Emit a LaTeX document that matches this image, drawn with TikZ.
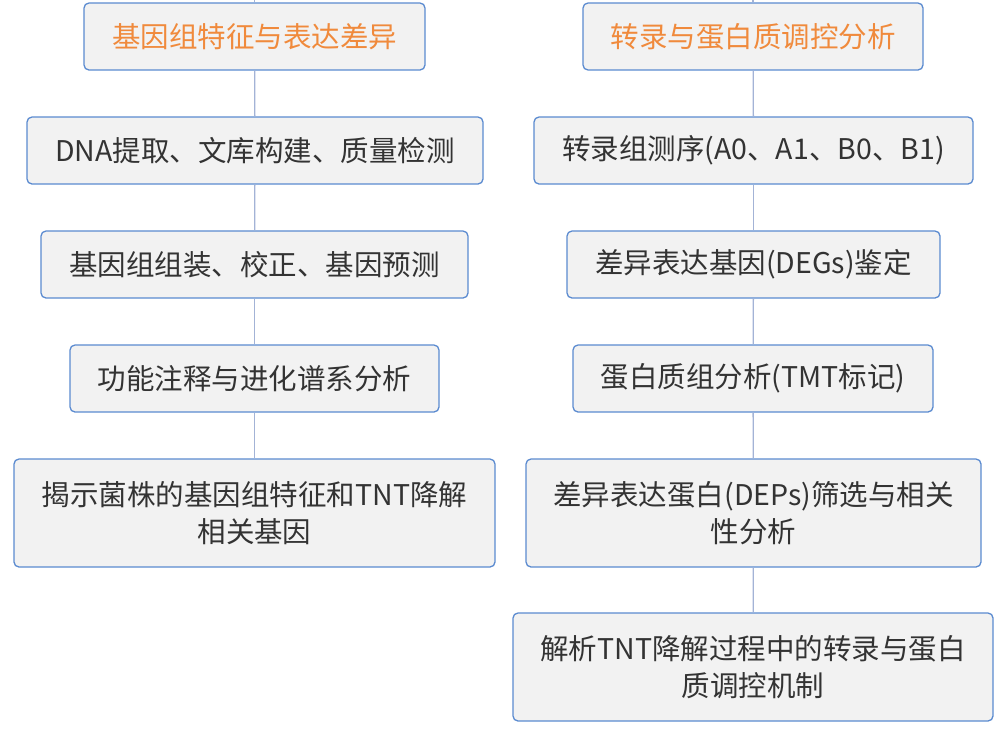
\documentclass[tikz,border=0pt]{standalone}
\usepackage{fontspec}
\setmainfont{Noto Sans CJK SC}
\definecolor{boxfill}{HTML}{F2F2F2}
\definecolor{boxdraw}{HTML}{5B8BD0}
\definecolor{linecol}{HTML}{A3B3D6}
\definecolor{txt}{HTML}{333333}
\definecolor{orangetxt}{HTML}{F08A3C}
\begin{document}
\begin{tikzpicture}[x=1pt,y=-1pt,
  box/.style={draw=boxdraw,line width=1.3pt,fill=boxfill,rounded corners=5pt,
    inner sep=0pt,align=center,text=txt,font=\fontsize{28.5}{37}\selectfont},
  conn/.style={draw=linecol,line width=1.3pt}]
\useasboundingbox (0,0) rectangle (1002,729);
% left column
\node[box,minimum width=341,minimum height=67,text=orangetxt] (L0) at (254.5,36.5) {基因组特征与表达差异};
\node[box,minimum width=456,minimum height=67] (L1) at (255,150.5) {DNA提取、文库构建、质量检测};
\node[box,minimum width=427,minimum height=67] (L2) at (254.5,264.5) {基因组组装、校正、基因预测};
\node[box,minimum width=369,minimum height=67] (L3) at (254.5,378.5) {功能注释与进化谱系分析};
\node[box,minimum width=481,minimum height=108] (L4) at (254.5,513) {揭示菌株的基因组特征和TNT降解\\相关基因};
% right column
\node[box,minimum width=340,minimum height=67,text=orangetxt] (R0) at (753,36.5) {转录与蛋白质调控分析};
\node[box,minimum width=439,minimum height=67] (R1) at (753.5,150.5) {转录组测序(A0、A1、B0、B1)};
\node[box,minimum width=373,minimum height=67] (R2) at (753.5,264.5) {差异表达基因(DEGs)鉴定};
\node[box,minimum width=360,minimum height=67] (R3) at (753,378.5) {蛋白质组分析(TMT标记)};
\node[box,minimum width=455,minimum height=108] (R4) at (753.5,513) {差异表达蛋白(DEPs)筛选与相关\\性分析};
\node[box,minimum width=480,minimum height=108] (R5) at (753,667) {解析TNT降解过程中的转录与蛋白\\质调控机制};
\coordinate (Ltop) at (254.5,0);
\coordinate (Rtop) at (753,0);
% connectors
\draw[conn] (Ltop) -- (L0.north);
\draw[conn] (L0) -- (L1);
\draw[conn] (L1) -- (L2);
\draw[conn] (L2) -- (L3);
\draw[conn] (L3) -- (L4);
\draw[conn] (Rtop) -- (R0.north);
\draw[conn] (R0) -- (R1);
\draw[conn] (R1) -- (R2);
\draw[conn] (R2) -- (R3);
\draw[conn] (R3) -- (R4);
\draw[conn] (R4) -- (R5);
\end{tikzpicture}
\end{document}
